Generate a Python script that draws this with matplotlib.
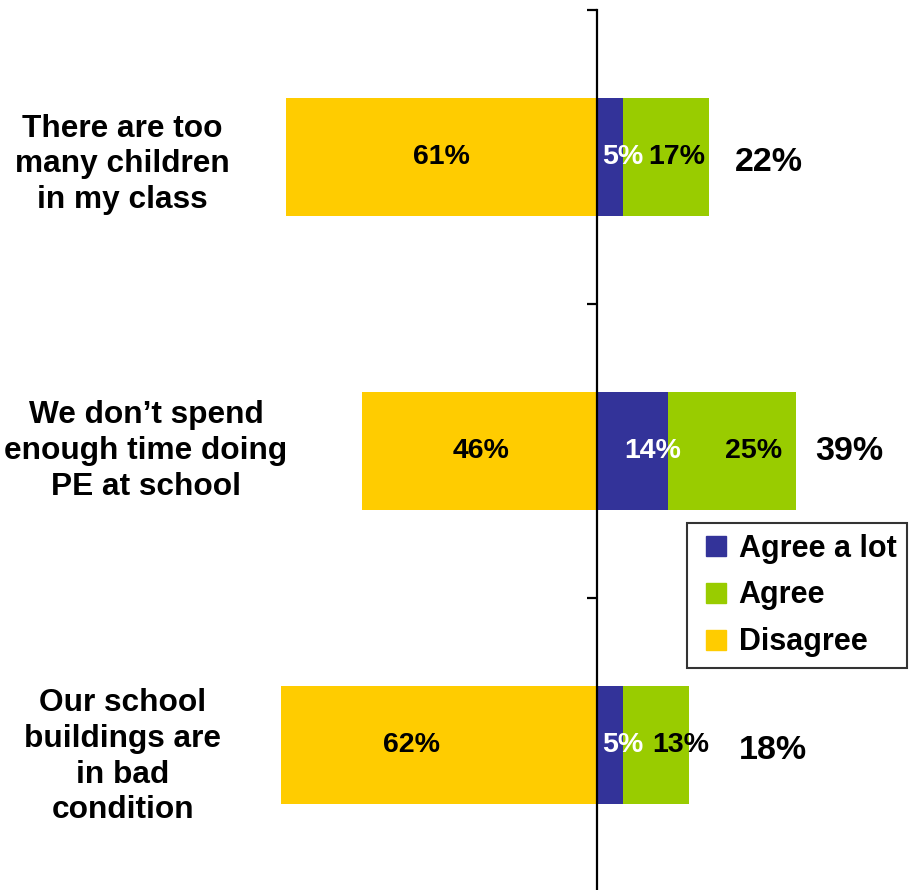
import matplotlib.pyplot as plt
from matplotlib.lines import Line2D

plt.rcParams['font.family'] = ['Liberation Sans', 'DejaVu Sans']
plt.rcParams['font.weight'] = 'bold'

# Data
statements = ["There are too\nmany children\nin my class",
              "We don\u2019t spend\nenough time doing\nPE at school",
              "Our school\nbuildings are\nin bad\ncondition"]
agree_a_lot = [5, 14, 5]
agree = [17, 25, 13]
disagree = [61, 46, 62]
totals = [22, 39, 18]

col_lot = '#333399'
col_agree = '#99CC00'
col_dis = '#FFCC00'

PX = 5.1  # pixels per percent
CX = 597  # pixel of the zero line


def px(x):
    return (x - CX) / PX


fig = plt.figure(figsize=(9.10, 8.90), dpi=100)
ax = fig.add_axes([0, -2 / 890, 1, 882 / 890])
ax.set_xlim(px(0), px(910))
ax.set_ylim(3, 0)

ys = [0.5, 1.5, 2.5]
h = 0.40
ax.barh(ys, [-d for d in disagree], height=h, color=col_dis, zorder=2)
ax.barh(ys, agree_a_lot, height=h, color=col_lot, zorder=2)
ax.barh(ys, agree, left=agree_a_lot, height=h, color=col_agree, zorder=2)

# label centres (pixels) as placed in the original
dis_x = [441, 481, 412]
lot_x = [623, 653, 623]
agr_x = [677, 754, 681]
tot_x = [769, 849, 773]
tot_dy = [0.02, 0.0, 0.02]
for i, y in enumerate(ys):
    ax.text(px(dis_x[i]), y, f"{disagree[i]}%", ha='center', va='center',
            fontsize=20.5, color='black', zorder=3)
    ax.text(px(lot_x[i]), y, f"{agree_a_lot[i]}%", ha='center', va='center',
            fontsize=20.5, color='white', zorder=3)
    ax.text(px(agr_x[i]), y, f"{agree[i]}%", ha='center', va='center',
            fontsize=20.5, color='black', zorder=3)
    ax.text(px(tot_x[i]), y + tot_dy[i], f"{totals[i]}%", ha='center',
            va='center', fontsize=24.5, color='black', zorder=3)

# category labels
label_x = [122, 146, 123]
label_dy = [0.025, 0.0, 0.04]
for i, y in enumerate(ys):
    ax.text(px(label_x[i]), y + label_dy[i], statements[i], ha='center',
            va='center', fontsize=22.8, linespacing=1.25, color='black')

# axis
for s in ['top', 'right', 'bottom']:
    ax.spines[s].set_visible(False)
ax.spines['left'].set_position(('data', 0))
ax.spines['left'].set_linewidth(1.6)
ax.spines['left'].set_zorder(4)
ax.set_yticks([0, 1, 2, 3])
ax.set_yticklabels([])
ax.tick_params(axis='y', direction='out', length=7, width=1.6)
ax.set_xticks([])

handles = [Line2D([], [], ls='none', marker='s', markersize=14, color=c)
           for c in [col_lot, col_agree, col_dis]]
leg = fig.legend(handles, ["Agree a lot", "Agree", "Disagree"],
                 loc='upper right', bbox_to_anchor=(907 / 910, 1 - 523 / 890),
                 fontsize=22, frameon=True, fancybox=False, handlelength=1.2,
                 handletextpad=0.15, labelspacing=0.55,
                 borderpad=0.35, borderaxespad=0)
leg.get_frame().set_edgecolor('black')
leg.get_frame().set_linewidth(1.5)

plt.savefig('out.png', dpi=100)
